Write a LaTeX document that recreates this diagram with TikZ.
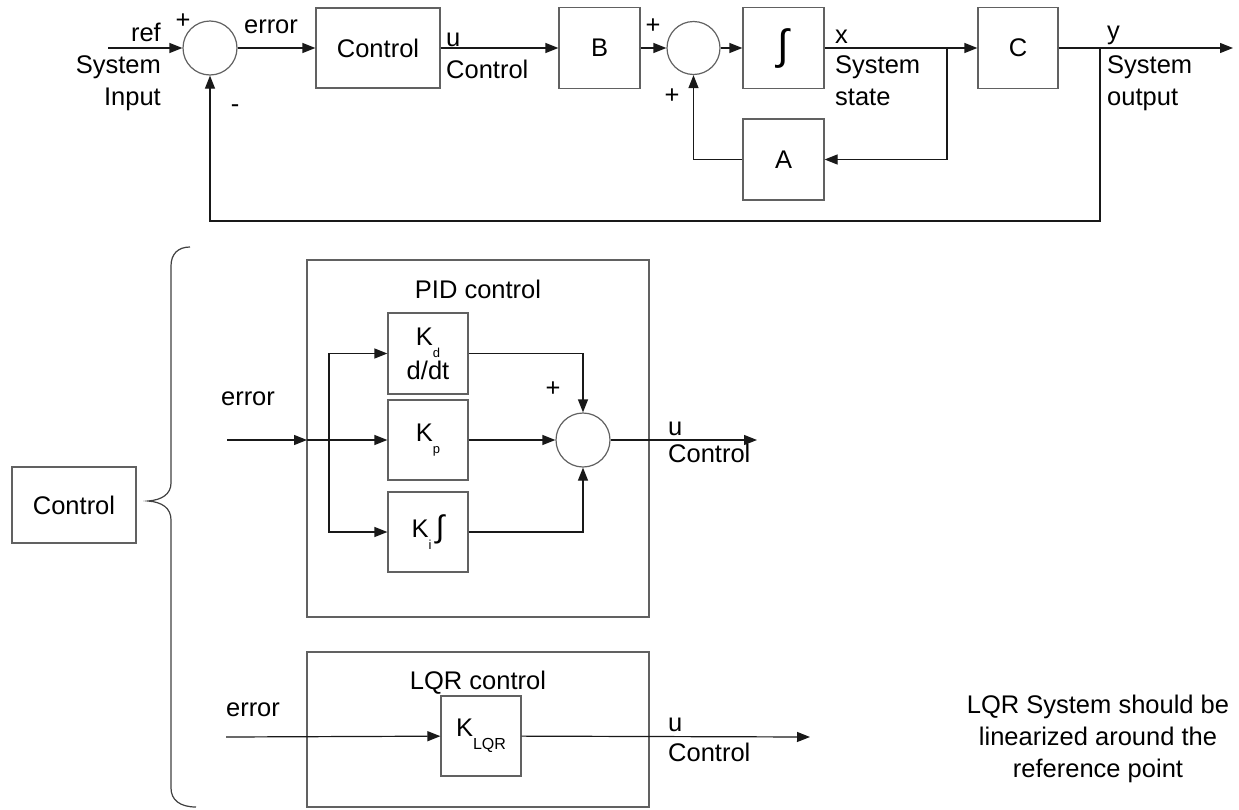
\documentclass[tikz,border=0pt]{standalone}
\usepackage{fontspec}
\setmainfont{Liberation Sans}
\usetikzlibrary{arrows.meta}
\newcommand\subl[1]{\raisebox{-0.5em}{\fontsize{13}{13}\selectfont #1}}
\begin{document}
\begin{tikzpicture}[x=1pt,y=-1pt,
  every node/.style={font=\fontsize{25.5}{32}\selectfont, inner sep=0pt},
  blk/.style={draw=black!62, line width=1.2pt, rectangle, minimum width=81pt, minimum height=81pt, align=center},
  sumc/.style={draw=black!62, line width=1.2pt, circle, minimum size=54pt},
  frame/.style={draw=black!62, line width=1.2pt, rectangle},
  conn/.style={line width=1.2pt, draw=black!90},
  arr/.style={conn, -{Triangle[length=13pt,width=10pt]}},
  lbl/.style={anchor=mid},
  lblw/.style={anchor=mid west},
  lble/.style={anchor=mid east}]
\useasboundingbox (0,0) rectangle (1239,809);

% ---------- top loop ----------
\node[sumc] (s1) at (210,48) {};
\node[blk, minimum width=124pt, minimum height=80pt] (ctrl) at (378,48) {Control};
\node[blk] (B) at (599.5,48) {B};
\node[sumc, minimum size=53pt] (s2) at (693.5,48) {};
\node[blk] (I) at (783.5,48) {\fontsize{42}{42}\selectfont ∫};
\node[blk, minimum width=80pt] (C) at (1018,48) {C};
\node[blk] (A) at (783.5,159.5) {A};

\coordinate (refin) at (108,48);
\coordinate (xb) at (947,48);
\coordinate (yb) at (1100,48);
\coordinate (yend) at (1233,48);
\coordinate (fb) at (1100,221);

\draw[arr] (refin) -- (s1);
\draw[arr] (s1) -- (ctrl);
\draw[arr] (ctrl) -- (B);
\draw[arr] (B) -- (s2);
\draw[arr] (s2) -- (I);
\draw[arr] (I) -- (C);
\draw[arr] (xb) |- (A);
\draw[arr] (A) -| (s2);
\draw[arr] (C) -- (yend);
\draw[arr] (yb) -- (fb) -| (s1);

\node[lble] (tref) at (161,39) {ref};
\node[lble] (tsys1) at (161,71) {System};
\node[lble] (tinp) at (161,103) {Input};
\node[lbl] (p1) at (183,26) {+};
\node[lbl] (m1) at (235,110) {-};
\node[lbl] (terr) at (271,31) {error};
\node[lblw] (tu1) at (446,44) {u};
\node[lblw] (tc1) at (446,76) {Control};
\node[lbl] (p2) at (653,31) {+};
\node[lbl] (p3) at (672,101) {+};
\node[lblw] (tx) at (835,41) {x};
\node[lblw] (tsys2) at (835,71) {System};
\node[lblw] (tst) at (835,103) {state};
\node[lblw] (ty) at (1107,37) {y};
\node[lblw] (tsys3) at (1107,71) {System};
\node[lblw] (tout) at (1107,103) {output};

% ---------- bottom: control detail ----------
\node[blk, minimum width=124pt, minimum height=76pt] (ctrl2) at (74,505) {Control};
\draw[line width=1.2pt, draw=black!75]
  (190,247) .. controls (178,247) and (171,254) .. (171,266)
  -- (171,483) .. controls (171,494) and (162,500) .. (148,501)
  .. controls (162,502) and (171,508) .. (171,520)
  -- (171,788) .. controls (171,800) and (180,807) .. (196,807);

% PID
\node[frame, minimum width=342pt, minimum height=357pt] (pid) at (478,438.5) {};
\node[lbl] (tpid) at (478,296) {PID control};
\node[blk, minimum width=80pt] (Kd) at (428,353.5) {K\subl{d}\\[2pt]d/dt};
\node[blk, minimum width=80pt, minimum height=80pt] (Kp) at (428,440) {K\subl{p}};
\node[blk, minimum width=80pt, minimum height=80pt] (Ki) at (428,532) {K\subl{i}\,{\fontsize{31}{31}\selectfont ∫}};
\node[sumc] (s3) at (583,440) {};

\coordinate (ein) at (227,440);
\coordinate (pidin) at (307,440);
\coordinate (br) at (329,440);
\coordinate (uout) at (757,440);
\draw[arr] (ein) -- (pidin);
\draw[arr] (pidin) -- (Kp);
\draw[arr] (br) |- (Kd);
\draw[arr] (br) |- (Ki);
\draw[arr] (Kd) -| (s3);
\draw[arr] (Kp) -- (s3);
\draw[arr] (Ki) -| (s3);
\draw[arr] (s3) -- (uout);

\node[lbl] (terr2) at (248,403) {error};
\node[lbl] (p4) at (553,394) {+};
\node[lblw] (tu2) at (668,433) {u};
\node[lblw] (tc2) at (668,460) {Control};

% LQR
\node[frame, minimum width=342pt, minimum height=155pt] (lqr) at (478,729.5) {};
\node[lbl] (tlqr) at (478,687) {LQR control};
\node[blk, minimum width=80pt, minimum height=80pt] (K) at (481,736) {K\subl{\fontsize{16}{16}\selectfont LQR}};
\coordinate (ein2) at (226,737);
\coordinate (uout2) at (810,737);
\draw[arr] (ein2) -- (K);
\draw[arr] (K) -- (uout2);
\node[lbl] (terr3) at (253,714) {error};
\node[lblw] (tu3) at (668,729) {u};
\node[lblw] (tc3) at (668,759) {Control};

\node[lbl] (n1) at (1098,711) {LQR System should be};
\node[lbl] (n2) at (1098,743) {linearized around the};
\node[lbl] (n3) at (1098,775) {reference point};
\end{tikzpicture}
\end{document}
